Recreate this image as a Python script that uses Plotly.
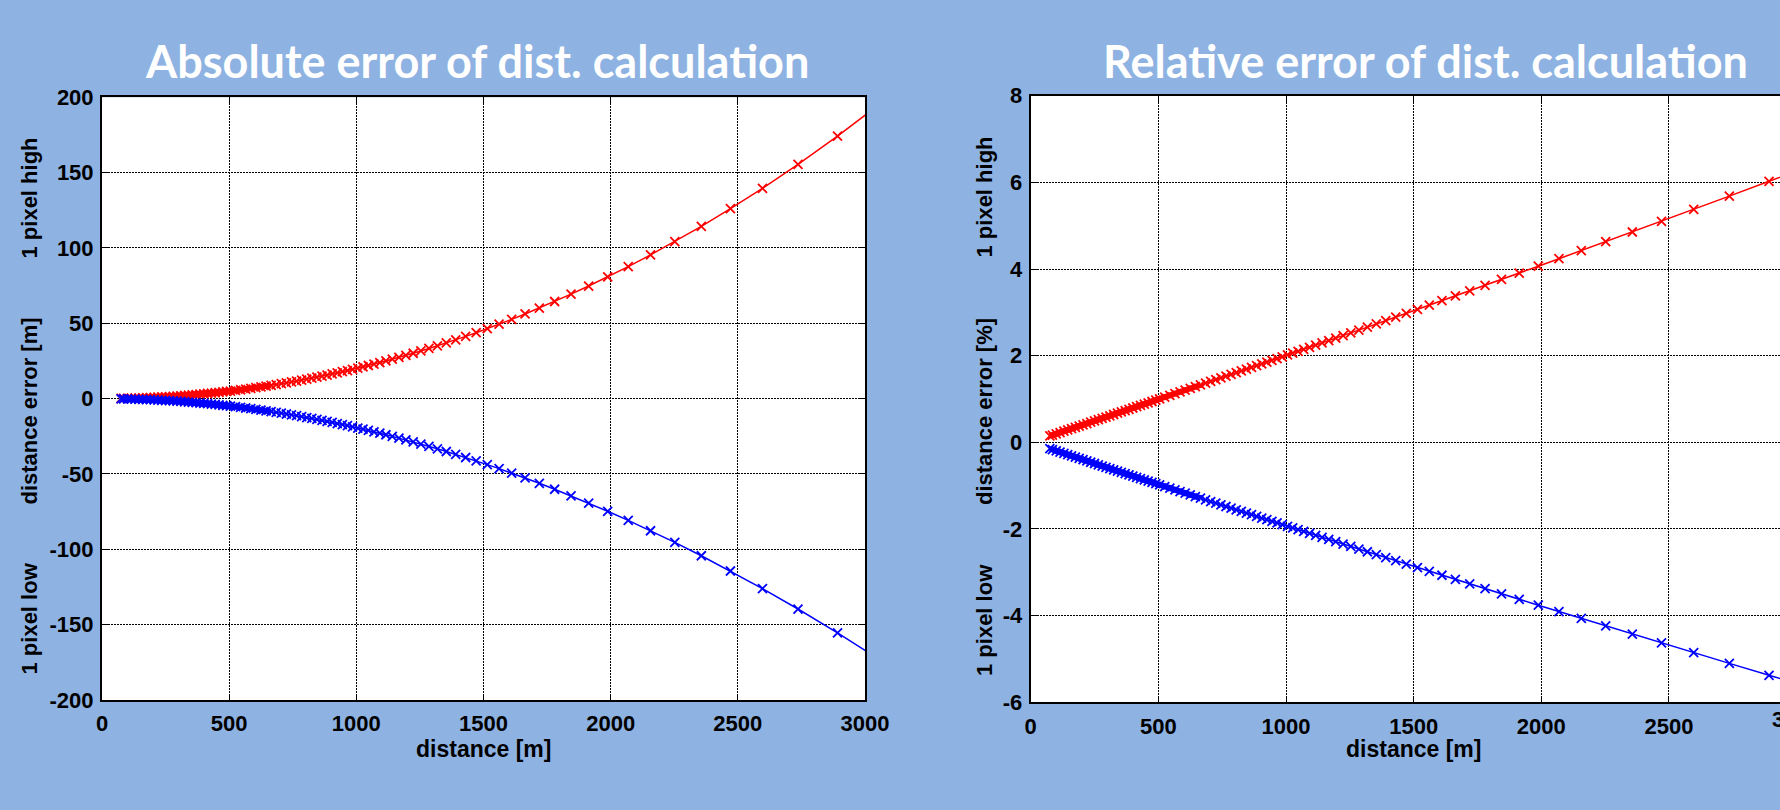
import plotly.graph_objects as go

# ---- data ----
distance = [75, 85, 100, 115, 130, 145, 160, 175, 190, 205, 220, 235, 250, 265, 280, 295,
            310, 325, 340, 355, 370, 385, 400, 415, 430, 445, 460, 475, 490,
            505, 525, 545, 565, 585, 605, 625, 645, 665, 685, 705, 725, 745, 765, 785, 805,
            825, 845, 865, 885, 905, 925, 945, 965, 985,
            1005.9, 1026.2, 1047.3, 1069.3, 1092.3, 1116.2, 1141.3, 1167.4, 1194.8, 1223.6,
            1253.7, 1285.4, 1318.7, 1353.7, 1390.7, 1429.8, 1471.1, 1514.9, 1561.3, 1610.8,
            1663.4, 1719.6, 1779.7, 1844.2, 1913.5, 1988.3, 2069.1, 2156.8, 2252.2, 2356.5,
            2470.9, 2596.9, 2736.6, 2892.0, 3066.3]

abs_high = [0.111, 0.142, 0.197, 0.260, 0.333, 0.414, 0.504, 0.604, 0.712, 0.829, 0.955, 1.090,
            1.234, 1.387, 1.549, 1.720, 1.900, 2.088, 2.286, 2.493, 2.709, 2.934, 3.168, 3.411,
            3.664, 3.925, 4.195, 4.475, 4.763,
            5.061, 5.471, 5.899, 6.342, 6.802, 7.278, 7.770, 8.278, 8.803, 9.344, 9.902, 10.476,
            11.066, 11.673, 12.296, 12.936, 13.592, 14.265, 14.954, 15.660, 16.382, 17.121,
            17.877, 18.649, 19.437,
            20.280, 21.115, 22.002, 22.946, 23.954, 25.027, 26.177, 27.404, 28.721, 30.138,
            31.659, 33.301, 35.072, 36.986, 39.065, 41.324, 43.783, 46.469, 49.408, 52.641,
            56.196, 60.126, 64.482, 69.331, 74.746, 80.825, 87.674, 95.434, 104.27, 114.39,
            126.07, 139.62, 155.49, 174.22, 196.56]

abs_low = [-0.110, -0.142, -0.196, -0.259, -0.331, -0.412, -0.501, -0.600, -0.707, -0.822,
           -0.947, -1.080, -1.222, -1.372, -1.532, -1.700, -1.877, -2.062, -2.256, -2.459,
           -2.670, -2.890, -3.119, -3.356, -3.602, -3.857, -4.120, -4.392, -4.672,
           -4.961, -5.360, -5.774, -6.203, -6.647, -7.107, -7.581, -8.071, -8.576, -9.096,
           -9.632, -10.182, -10.747, -11.327, -11.923, -12.533, -13.159, -13.799, -14.454,
           -15.125, -15.810, -16.510, -17.225, -17.955, -18.699,
           -19.494, -20.281, -21.115, -22.002, -22.947, -23.953, -25.029, -26.175, -27.404,
           -28.723, -30.137, -31.660, -33.300, -35.070, -36.987, -39.066, -41.323, -43.783,
           -46.467, -49.411, -52.639, -56.196, -60.125, -64.483, -69.330, -74.748, -80.824,
           -87.675, -95.432, -104.27, -114.39, -126.06, -139.62, -155.48, -174.22]

rel_high = [0.1476, 0.1673, 0.1969, 0.2264, 0.2561, 0.2857, 0.3153, 0.3450, 0.3747, 0.4044,
            0.4341, 0.4638, 0.4936, 0.5234, 0.5531, 0.5829, 0.6128, 0.6426, 0.6725, 0.7023,
            0.7322, 0.7622, 0.7921, 0.8220, 0.8520, 0.8820, 0.9120, 0.9420, 0.9720,
            1.0021, 1.0422, 1.0823, 1.1225, 1.1627, 1.2029, 1.2432, 1.2835, 1.3238, 1.3641,
            1.4045, 1.4449, 1.4854, 1.5259, 1.5664, 1.6070, 1.6475, 1.6881, 1.7288, 1.7695,
            1.8102, 1.8509, 1.8917, 1.9325, 1.9733,
            2.0161, 2.0576, 2.1008, 2.1459, 2.1930, 2.2422, 2.2936, 2.3474, 2.4038, 2.4631,
            2.5253, 2.5907, 2.6596, 2.7322, 2.8090, 2.8902, 2.9762, 3.0675, 3.1646, 3.2680,
            3.3784, 3.4965, 3.6232, 3.7594, 3.9063, 4.0650, 4.2373, 4.4248, 4.6296, 4.8544,
            5.1020, 5.3763, 5.6818, 6.0241, 6.4103]

rel_low = [-0.1471, -0.1667, -0.1961, -0.2254, -0.2548, -0.2841, -0.3134, -0.3426, -0.3719,
           -0.4011, -0.4304, -0.4596, -0.4888, -0.5179, -0.5471, -0.5762, -0.6053, -0.6345,
           -0.6635, -0.6926, -0.7217, -0.7507, -0.7797, -0.8087, -0.8377, -0.8667, -0.8956,
           -0.9246, -0.9535,
           -0.9824, -1.0209, -1.0594, -1.0978, -1.1363, -1.1746, -1.2130, -1.2513, -1.2896,
           -1.3279, -1.3662, -1.4044, -1.4425, -1.4807, -1.5188, -1.5569, -1.5950, -1.6330,
           -1.6710, -1.7090, -1.7470, -1.7849, -1.8227, -1.8606, -1.8984,
           -1.9380, -1.9763, -2.0161, -2.0576, -2.1008, -2.1459, -2.1930, -2.2422, -2.2936,
           -2.3474, -2.4038, -2.4631, -2.5253, -2.5907, -2.6596, -2.7322, -2.8090, -2.8902,
           -2.9762, -3.0675, -3.1646, -3.2680, -3.3784, -3.4965, -3.6232, -3.7594, -3.9063,
           -4.0650, -4.2373, -4.4248, -4.6296, -4.8544, -5.1020, -5.3763, -5.6818]

# tick values / labels (plain hyphen as minus sign, like the reference)
x_ticks = [0, 500, 1000, 1500, 2000, 2500, 3000]
x_tick_labels = ["0", "500", "1000", "1500", "2000", "2500", "3000"]
abs_ticks = [-200, -150, -100, -50, 0, 50, 100, 150, 200]
abs_tick_labels = ["-200", "-150", "-100", "-50", "0", "50", "100", "150", "200"]
rel_ticks = [-6, -4, -2, 0, 2, 4, 6, 8]
rel_tick_labels = ["-6", "-4", "-2", "0", "2", "4", "6", "8"]

titles = ["Absolute error of dist. calculation", "Relative error of dist. calculation"]
x_title = "distance [m]"
y_titles_left = ["1 pixel high", "distance error [m]", "1 pixel low"]
y_titles_right = ["1 pixel high", "distance error [%]", "1 pixel low"]

# ---- styling ----
W, H = 1780, 810
BG = "#8EB3E2"
RED, BLUE = "#FF0000", "#0000FF"
FONT = "Liberation Sans, Arial, sans-serif"
TICKFONT = dict(family=FONT, size=22, color="black", weight="bold")
LABELFONT = dict(family=FONT, size=23, color="black", weight="bold")
N_DENSE = 38  # markers closer than a pixel or two merge into a solid band (up to ~665 m)


def px_x(p):
    return p / W


def px_y(p):
    return 1 - p / H


def traces(x, y, color, xa, ya):
    band = go.Scatter(
        x=x[:N_DENSE], y=y[:N_DENSE], xaxis=xa, yaxis=ya, mode="lines", showlegend=False,
        line=dict(color=color, width=6), hoverinfo="skip",
    )
    main = go.Scatter(
        x=x, y=y, xaxis=xa, yaxis=ya, mode="lines+markers", showlegend=False,
        line=dict(color=color, width=1.5),
        marker=dict(symbol="x-thin", size=9, line=dict(color=color, width=1.8)),
        hoverinfo="skip",
    )
    return [band, main]


fig = go.Figure()
for tr in (traces(distance, abs_high, RED, "x", "y") + traces(distance, abs_low, BLUE, "x", "y")
           + traces(distance, rel_high, RED, "x2", "y2") + traces(distance, rel_low, BLUE, "x2", "y2")):
    fig.add_trace(tr)

common = dict(
    showgrid=True, gridcolor="black", gridwidth=1, griddash="2px,1px",
    zeroline=False, showline=True, linecolor="black", linewidth=2,
    ticks="inside", ticklen=6, tickwidth=1, tickcolor="black",
    tickfont=TICKFONT, fixedrange=True, automargin=False, tickmode="array",
)

# plot areas in pixels
L1, R1, T1, B1 = 102, 865, 97.3, 700
L2, R2full, T2, B2 = 1030.7, 1796.6, 95.7, 702.3
x2max = 3000 * (W - L2) / (R2full - L2)

fig.update_layout(
    width=W, height=H,
    margin=dict(l=0, r=0, t=0, b=0, pad=0, autoexpand=False),
    paper_bgcolor=BG, plot_bgcolor="white",
    xaxis=dict(domain=[px_x(L1), px_x(R1)], range=[0, 3000], anchor="y",
               tickvals=x_ticks, ticktext=x_tick_labels,
               mirror="allticks", ticklabelstandoff=3, **common),
    yaxis=dict(domain=[px_y(B1), px_y(T1)], range=[-200, 200], anchor="x",
               tickvals=abs_ticks, ticktext=abs_tick_labels,
               mirror="allticks", ticklabelstandoff=2, **common),
    xaxis2=dict(domain=[px_x(L2), 1.0], range=[0, x2max], anchor="y2",
                tickvals=x_ticks, ticktext=x_tick_labels,
                mirror="allticks", ticklabelstandoff=3, **common),
    yaxis2=dict(domain=[px_y(B2), px_y(T2)], range=[-6, 8], anchor="x2",
                tickvals=rel_ticks, ticktext=rel_tick_labels,
                mirror=False, ticklabelstandoff=2, **common),
)

ann = []
# titles
for txt, cx in zip(titles, [477, 1425]):
    ann.append(dict(text=txt, x=px_x(cx), y=px_y(61), xref="paper", yref="paper",
                    xanchor="center", yanchor="middle", showarrow=False,
                    font=dict(family="Lato", size=45, color="white", weight="bold")))
# x-axis titles
for cx in [(L1 + R1) / 2, (L2 + R2full) / 2]:
    ann.append(dict(text=x_title, x=px_x(cx), y=px_y(749), xref="paper", yref="paper",
                    xanchor="center", yanchor="middle", showarrow=False, font=LABELFONT))
# y-axis titles (three parts)
for texts, cx, ys in [(y_titles_left, 29, [198.5, 411.5, 618.5]),
                      (y_titles_right, 984, [197.5, 412, 620])]:
    for t, cy in zip(texts, ys):
        ann.append(dict(text=t, x=px_x(cx), y=px_y(cy), xref="paper", yref="paper",
                        xanchor="center", yanchor="middle", showarrow=False,
                        textangle=-90, font=TICKFONT))
# partially visible 3000 label of the right chart (cut by the picture edge)
ann.append(dict(text=x_tick_labels[-1], x=px_x(R2full), y=px_y(719), xref="paper",
                yref="paper", xanchor="center", yanchor="middle", showarrow=False,
                font=TICKFONT))
fig.update_layout(annotations=ann)

fig.write_html(
    "out.html",
    config={"displayModeBar": False},
    post_script=("document.documentElement.style.margin='0';"
                 "document.body.style.margin='0';"
                 "document.body.style.overflow='hidden';"
                 "document.documentElement.style.overflow='hidden';"),
)
